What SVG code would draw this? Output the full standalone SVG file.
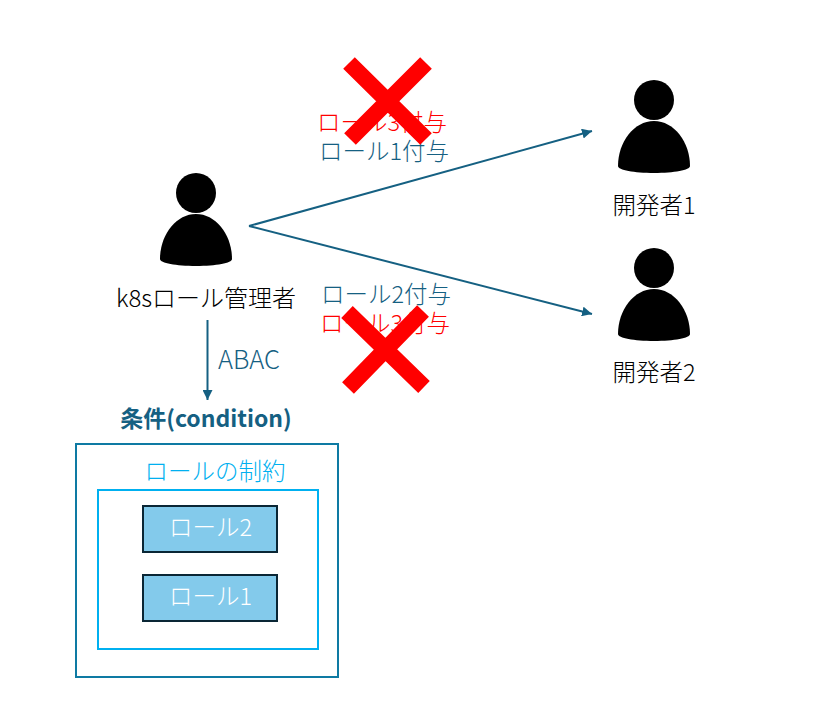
<svg xmlns="http://www.w3.org/2000/svg" width="813" height="701" viewBox="0 0 813 701">
<style>
text{font-family:"Noto Sans CJK JP","Noto Sans",sans-serif;font-size:23.500px;font-weight:300;text-anchor:middle}
.teal{fill:#156082}.red{fill:#ff0000}.blk{fill:#000}.wht{fill:#fff}
.conn{stroke:#156082;stroke-width:2;fill:none;marker-end:url(#arrow)}
.x{stroke:#ff0000;stroke-width:16.5;fill:none}
</style>
<defs>
<marker id="arrow" markerUnits="userSpaceOnUse" markerWidth="11" markerHeight="10" refX="10" refY="5" orient="auto"><path d="M0 0L10 5L0 10Z" fill="#156082"/></marker>
<g id="person"><circle cx="0" cy="0" r="20"/><path d="M-36 66C-36 42-20 21 0 21C20 21 36 42 36 66C36 70 20 73 0 73C-20 73-36 70-36 66Z"/></g>
</defs>
<g id="connectors">
<path class="conn" d="M249 226L592 131"/>
<path class="conn" d="M249 226L592 314"/>
<path class="conn" d="M207.500 320V400"/>
</g>
<g id="admin"><use href="#person" x="196" y="193"/><text class="blk" x="206" y="307" style="font-size:24px">k8sロール管理者</text></g>
<g id="dev1"><use href="#person" x="654" y="100"/><text class="blk" x="654" y="214">開発者1</text></g>
<g id="dev2"><use href="#person" x="654" y="268"/><text class="blk" x="654" y="381">開発者2</text></g>
<g id="labels">
<text class="red" x="382" y="131">ロール3付与</text>
<text class="teal" x="384" y="160">ロール1付与</text>
<text class="teal" x="386" y="303">ロール2付与</text>
<text class="red" x="385" y="332">ロール3付与</text>
<text class="teal" x="249" y="369" style="font-size:25.500px">ABAC</text>
<text class="teal" x="206" y="427" style="font-size:23px;font-weight:700">条件(condition)</text>
</g>
<g id="cross1"><path class="x" d="M349 63L426 139M426 63L350 139"/></g>
<g id="cross2"><path class="x" d="M347 312L424 387M423 311L348 388"/></g>
<g id="condition"><rect x="76" y="444" width="262" height="233" fill="none" stroke="#0e7aa3" stroke-width="2"/></g>
<g id="constraint"><rect x="98" y="490" width="220" height="159" fill="none" stroke="#00b0f0" stroke-width="2"/><text x="215" y="480" fill="#00b0f0">ロールの制約</text></g>
<g id="role2"><rect x="143" y="506" width="134" height="46" fill="#83caeb" stroke="#0a2635" stroke-width="2"/><text class="wht" x="210.500" y="536">ロール2</text></g>
<g id="role1"><rect x="143" y="575" width="134" height="46" fill="#83caeb" stroke="#0a2635" stroke-width="2"/><text class="wht" x="210.500" y="605">ロール1</text></g>
</svg>
